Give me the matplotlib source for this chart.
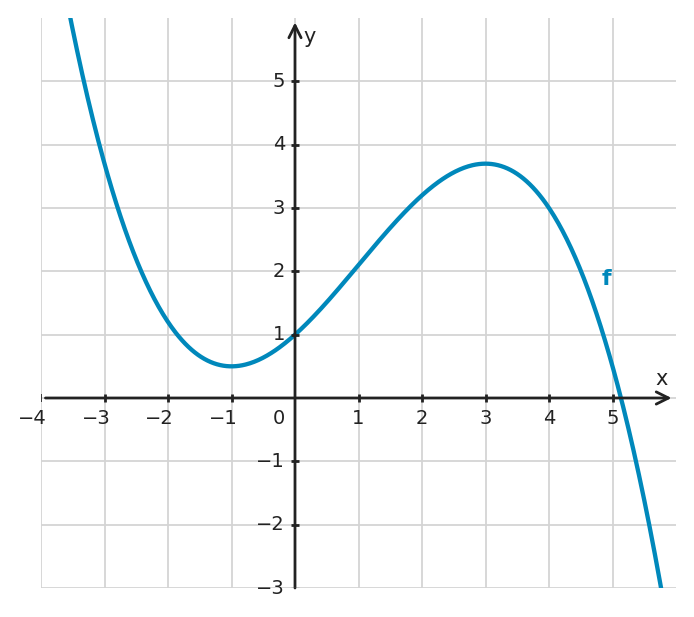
import numpy as np
import matplotlib.pyplot as plt
from matplotlib.transforms import offset_copy

# points (extrema, intercept, grid crossings)
pts_x = [-3, -1, 0, 3, 4, 5]
pts_y = [3.7, 0.5, 1.0, 3.7, 3.0, 0.5]

x_ticks = [-4, -3, -2, -1, 1, 2, 3, 4, 5]
y_ticks = [-3, -2, -1, 1, 2, 3, 4, 5]
x_grid = [-4, -3, -2, -1, 0, 1, 2, 3, 4, 5]
y_grid = [-3, -2, -1, 0, 1, 2, 3, 4, 5]

curve_col = '#0088bb'
axis_col = '#222222'
grid_col = '#d4d4d4'
text_col = '#222222'

fig = plt.figure(figsize=(6.94, 6.17), dpi=100)
ax = fig.add_axes([41/694, 29/617, 635/694, 570/617])
ax.set_xlim(-4, 6)
ax.set_ylim(-3, 6)
ax.axis('off')

# grid
ax.vlines(x_grid, -3, 6, colors=grid_col, lw=1.3, zorder=1)
ax.hlines(y_grid, -4, 6, colors=grid_col, lw=1.3, zorder=1)

# curve f: cubic through the read points
coef = np.polyfit(pts_x, pts_y, 3)
xs = np.linspace(-4, 6, 600)
ax.plot(xs, np.polyval(coef, xs), color=curve_col, lw=3.1, zorder=2, solid_capstyle='butt')

# axes with arrows
ax.annotate('', xy=(5.93, 0), xytext=(-3.93, 0),
            arrowprops=dict(arrowstyle='->', color=axis_col, lw=2,
                            mutation_scale=22, shrinkA=0, shrinkB=0), zorder=3)
ax.annotate('', xy=(0, 5.93), xytext=(0, -3),
            arrowprops=dict(arrowstyle='->', color=axis_col, lw=2,
                            mutation_scale=22, shrinkA=0, shrinkB=0), zorder=3)

# tick marks
tl = 0.07
for t in x_ticks:
    w = 1.2 if t == -4 else 2
    ax.plot([t, t], [-tl, tl], color=axis_col, lw=w, zorder=3, solid_capstyle='butt')
for t in y_ticks:
    w = 1.0 if t == -3 else 2
    c = '#777777' if t == -3 else axis_col
    ax.plot([-tl, tl], [t, t], color=c, lw=w, zorder=3, solid_capstyle='butt')

fs = 14
# x tick labels: digit centred under the tick, minus sign hanging left
tr_x = offset_copy(ax.transData, fig=fig, x=6.2, y=-20, units='dots')
for t in x_ticks:
    ax.text(t, 0, str(t).replace('-', '\u2212'), transform=tr_x, ha='right',
            va='center', fontsize=fs, color=text_col)
tr_y = offset_copy(ax.transData, fig=fig, x=-10, y=0, units='dots')
for t in y_ticks:
    ax.text(0, t, str(t).replace('-', '\u2212'), transform=tr_y, ha='right',
            va='center', fontsize=fs, color=text_col)
tr_0 = offset_copy(ax.transData, fig=fig, x=-10, y=-20, units='dots')
ax.text(0, 0, '0', transform=tr_0, ha='right', va='center', fontsize=fs,
        color=text_col)

ax.text(5.77, 0.3, 'x', fontsize=15, color=text_col, ha='center', va='center')
ax.text(0.23, 5.7, 'y', fontsize=15, color=text_col, ha='center', va='center')
ax.text(4.9, 1.88, 'f', fontsize=16, color=curve_col, fontweight='bold',
        ha='center', va='center')

fig.savefig('out.png', dpi=100)
